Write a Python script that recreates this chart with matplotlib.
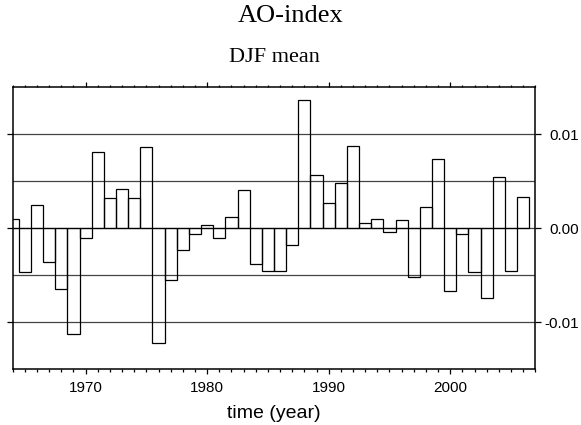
import matplotlib
matplotlib.use("Agg")
import matplotlib.pyplot as plt
from matplotlib.ticker import MultipleLocator, FixedLocator, FixedFormatter

# DJF mean AO-index, one bar per year
years = list(range(1964, 2007))
ao_djf = [
    0.00103, -0.00464, 0.00251, -0.00361, -0.00644, -0.01129, -0.00106,   # 1964-1970
    0.00814, 0.00326, 0.00421, 0.00326, 0.00867, -0.01217, -0.00552,      # 1971-1977
    -0.00226, -0.00064, 0.00039, -0.00106, 0.00117, 0.00403, -0.00375,    # 1978-1984
    -0.00449, -0.00456, -0.00177, 0.01366, 0.00570, 0.00273, 0.00481,     # 1985-1991
    0.00874, 0.00057, 0.00099, -0.00035, 0.00092, -0.00520, 0.00223,      # 1992-1998
    0.00732, -0.00665, -0.00057, -0.00464, -0.00743, 0.00545, -0.00449,   # 1999-2005
    0.00333,                                                              # 2006
]

grid_levels = [-0.01, -0.005, 0.0, 0.005, 0.01]
ytick_vals = [-0.01, 0.0, 0.01]
ytick_labels = ["-0.01", "0.00", "0.01"]
xtick_years = [1970, 1980, 1990, 2000]

sans = "Liberation Sans"
serif = "Liberation Serif"

fig = plt.figure(figsize=(5.81, 4.25), dpi=100, facecolor="white")
ax = fig.add_axes([12.7 / 581, 1 - 369.3 / 425, (535.3 - 12.7) / 581, (369.3 - 87.3) / 425])

# horizontal reference lines
for lev in grid_levels:
    ax.axhline(lev, color="#444444", lw=0.9, zorder=1)

# open bars, centred on each year
ax.bar(years, ao_djf, width=1.0, facecolor="none", edgecolor="black", lw=0.9, zorder=2)

ax.set_xlim(1964, 2007)
ax.set_ylim(-0.015, 0.015)

# x axis: minor tick every year, major every decade, ticks top and bottom
ax.xaxis.set_major_locator(FixedLocator(xtick_years))
ax.xaxis.set_minor_locator(MultipleLocator(1))
ax.set_xticklabels([str(y) for y in xtick_years], fontsize=11, family=sans)
ax.tick_params(axis="x", which="both", direction="out", top=True, bottom=True, width=0.9)
ax.tick_params(axis="x", which="major", length=3.6, pad=5)
ax.tick_params(axis="x", which="minor", length=1.8)

# y axis: labels on the right, right-aligned at the figure edge
ax.yaxis.set_major_locator(FixedLocator(ytick_vals))
ax.yaxis.set_major_formatter(FixedFormatter(ytick_labels))
ax.tick_params(axis="y", which="major", direction="out", left=True, right=True,
               labelleft=False, labelright=True, length=4.3, width=0.9, pad=27, labelsize=11)
for lbl in ax.get_yticklabels():
    lbl.set_family(sans)
    lbl.set_horizontalalignment("right")

for sp in ax.spines.values():
    sp.set_linewidth(1.1)

ax.set_xlabel("time (year)", fontsize=14, family=sans, labelpad=7)

fig.text(0.5, 1 - 16 / 425, "AO-index", ha="center", va="center", fontsize=19, family=serif)
fig.text(12.7 / 581 + (535.3 - 12.7) / 581 / 2, 1 - 57 / 425, "DJF mean",
         ha="center", va="center", fontsize=16, family=serif)

fig.savefig("out.png", dpi=100, facecolor="white")
